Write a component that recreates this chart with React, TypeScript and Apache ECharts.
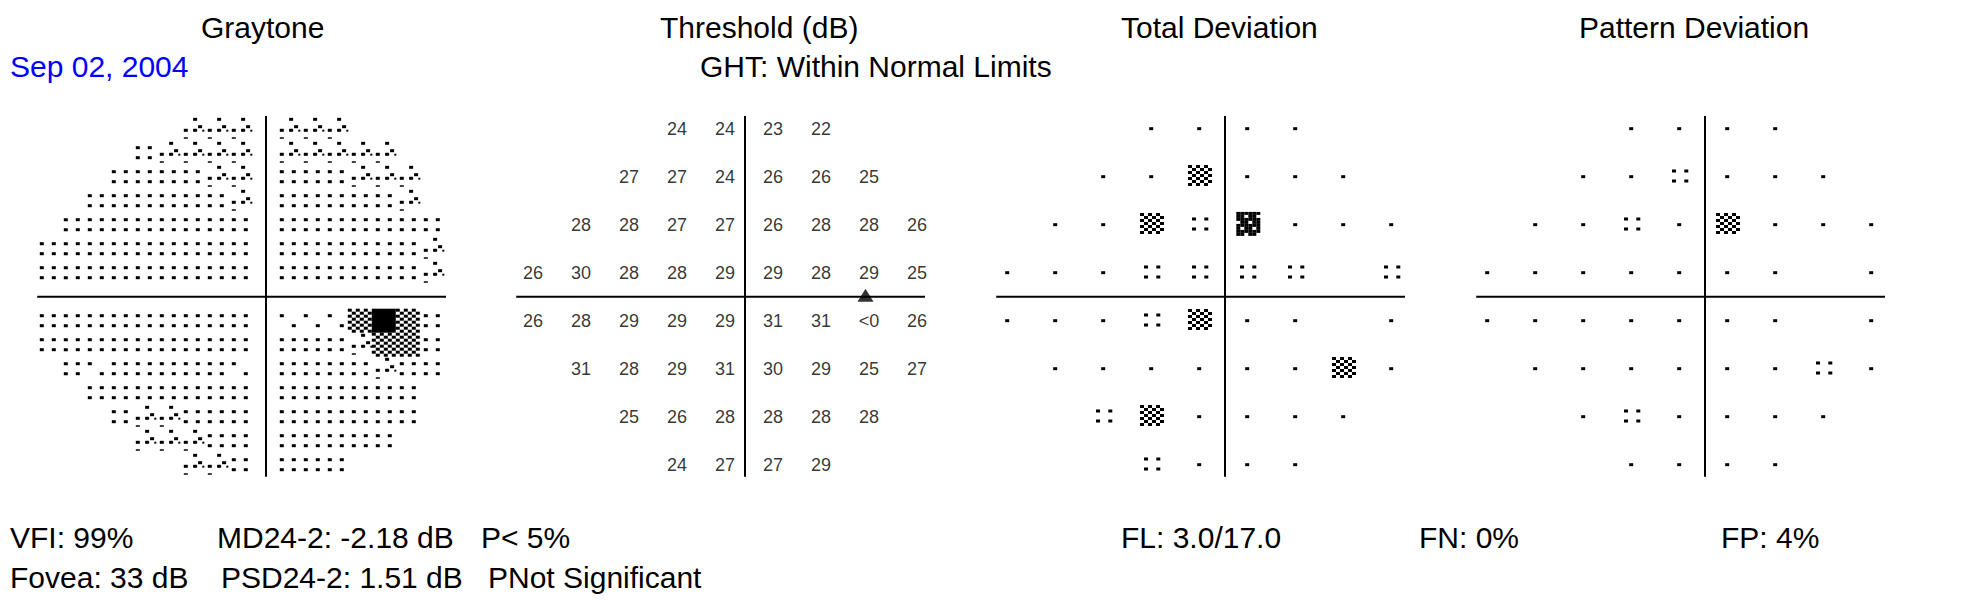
import React, { useEffect, useRef } from "react";
import * as echarts from "echarts";

// ---------- DATA ----------
// test-point grid (degrees), rows top to bottom
const rowYs = [21, 15, 9, 3, -3, -9, -15, -21];
const rowXs = [
  [-9, -3, 3, 9],
  [-15, -9, -3, 3, 9, 15],
  [-21, -15, -9, -3, 3, 9, 15, 21],
  [-27, -21, -15, -9, -3, 3, 9, 15, 21],
  [-27, -21, -15, -9, -3, 3, 9, 15, 21],
  [-21, -15, -9, -3, 3, 9, 15, 21],
  [-15, -9, -3, 3, 9, 15],
  [-9, -3, 3, 9],
];
// Threshold (dB)
const thresholdValues = [
  ["24", "24", "23", "22"],
  ["27", "27", "24", "26", "26", "25"],
  ["28", "28", "27", "27", "26", "28", "28", "26"],
  ["26", "30", "28", "28", "29", "29", "28", "29", "25"],
  ["26", "28", "29", "29", "29", "31", "31", "<0", "26"],
  ["31", "28", "29", "31", "30", "29", "25", "27"],
  ["25", "26", "28", "28", "28", "28"],
  ["24", "27", "27", "29"],
];
const blindSpot = [15, 0];
// probability symbols: 0 normal, 1 P<5%, 2 P<1%, 3 P<0.5%, -1 none
const totalDeviation = [
  [0, 0, 0, 0],
  [0, 0, 2, 0, 0, 0],
  [0, 0, 2, 1, 3, 0, 0, 0],
  [0, 0, 0, 1, 1, 1, 1, -1, 1],
  [0, 0, 0, 1, 2, 0, 0, -1, 0],
  [0, 0, 0, 0, 0, 0, 2, 0],
  [1, 2, 0, 0, 0, 0],
  [1, 0, 0, 0],
];
const patternDeviation = [
  [0, 0, 0, 0],
  [0, 0, 1, 0, 0, 0],
  [0, 0, 1, 0, 2, 0, 0, 0],
  [0, 0, 0, 0, 0, 0, 0, -1, 0],
  [0, 0, 0, 0, 0, 0, 0, -1, 0],
  [0, 0, 0, 0, 0, 0, 1, 0],
  [0, 1, 0, 0, 0, 0],
  [0, 0, 0, 0],
];
// Graytone cells (3 deg), level: 0 >=31dB, 1 26-30, 2 21-25, 3 dark, 4 <0
const grayYs = [21, 18, 15, 12, 9, 6, 3, -3, -6, -9, -12, -15, -18, -21];
// left half, from outermost cell to x=-3
const grayLeft = [
  [2, 2, 2],
  [1, 2, 2, 2, 2],
  [1, 1, 1, 1, 2, 2],
  [1, 1, 1, 1, 1, 1, 2],
  [1, 1, 1, 1, 1, 1, 1, 1],
  [1, 1, 1, 1, 1, 1, 1, 1, 1],
  [1, 1, 1, 1, 1, 1, 1, 1, 1],
  [1, 1, 1, 1, 1, 1, 1, 1, 1],
  [1, 1, 1, 1, 1, 1, 1, 1, 1],
  [1, 0, 1, 1, 1, 1, 1, 0],
  [1, 1, 1, 1, 1, 1, 1],
  [1, 2, 2, 1, 1, 1],
  [2, 2, 2, 1, 1],
  [2, 2, 1],
];
// right half, from x=3 outward
const grayRight = [
  [2, 2, 2],
  [2, 2, 2, 2, 2],
  [1, 1, 1, 2, 2, 2],
  [1, 1, 1, 1, 1, 2],
  [1, 1, 1, 1, 1, 1, 1],
  [1, 1, 1, 1, 1, 1, 2],
  [1, 1, 1, 1, 1, 1, 2],
  [0, 0, 0, 3, 4, 3, 1],
  [1, 1, 1, 2, 3, 3, 1],
  [1, 1, 1, 1, 2, 1, 1],
  [1, 1, 1, 1, 1, 1],
  [1, 1, 1, 1, 1, 1],
  [1, 1, 1, 1, 1],
  [1, 1, 1],
];
const panelTitles = ["Graytone", "Threshold (dB)", "Total Deviation", "Pattern Deviation"];
const headerLeft = "Sep 02, 2004";
const headerMid = "GHT: Within Normal Limits";
const footerRow1 = ["VFI: 99%", "MD24-2: -2.18 dB", "P< 5%", "FL: 3.0/17.0", "FN: 0%", "FP: 4%"];
const footerRow2 = ["Fovea: 33 dB", "PSD24-2: 1.51 dB", "PNot Significant"];

// ---------- LAYOUT ----------
const FONT = 'Arial, "Liberation Sans", Helvetica, sans-serif';
const TEXT_SIZE = 30;
const centersX = [266, 745, 1225, 1705];
const centerY = 296.7;
const titleX = [201, 660, 1121, 1579];
const footer1X = [10, 217, 481, 1121, 1419, 1721];
const footer2X = [10, 221, 488];

type R = [number, number, number, number];
const dotsAt = (pts: [number, number][], w = 4, h = 3): R[] => pts.map(([x, y]) => [x, y, w, h]);

function checker(cxo: number, cyo: number, cols: number, rows: number, cw: number, ch: number, dense: boolean): R[] {
  const out: R[] = [];
  const x0 = cxo - (cols * cw) / 2;
  const y0 = cyo - (rows * ch) / 2;
  for (let i = 0; i < cols; i++) {
    for (let j = 0; j < rows; j++) {
      const on = dense ? !((i + j) % 3 === 0 && j % 2 === 1) : (i + j) % 2 === 0;
      if (on) out.push([x0 + i * cw + cw / 2, y0 + j * ch + ch / 2, cw, ch]);
    }
  }
  return out;
}

function grayPattern(l: number): R[] {
  switch (l) {
    case 0:
      return dotsAt([[-8.2, -5], [3.8, 5]]);
    case 1:
      return dotsAt([[-8.2, -5], [3.8, -5], [-8.2, 5], [3.8, 5]]);
    case 2:
      return [
        [1.1, -9.4, 4, 3],
        [6.1, -2, 4, 3],
        [-8.2, 1.6, 4, 3],
        [1.1, 1.6, 4, 3],
        [9.3, 2, 2, 2],
        [-8.2, 9.3, 4, 1.5],
      ];
    case 3:
      return checker(-2.2, 0, 6, 8, 4, 3, false);
    default:
      return [[-2.2, 0, 24, 24]];
  }
}

function probPattern(l: number): R[] {
  switch (l) {
    case 0:
      return dotsAt([[-1.8, 0]]);
    case 1:
      return dotsAt([[-7, -5.7], [5.3, -5.7], [-7, 4.3], [5.3, 4.3]]);
    case 2:
      return checker(-1, -1.2, 6, 7, 4, 3, false);
    default:
      return checker(-0.7, -0.8, 6, 8, 4, 3, true);
  }
}

function makeRender(fn: (l: number) => R[]) {
  return (params: any, api: any) => {
    const p = api.coord([api.value(0), api.value(1)]);
    const rects = fn(api.value(2)).map(([dx, dy, w, h]) => ({
      type: "rect",
      shape: { x: p[0] + dx - w / 2, y: p[1] + dy - h / 2, width: w, height: h },
      style: { fill: "#000" },
    }));
    return { type: "group", children: rects };
  };
}

function buildOption() {
  const grayData: number[][] = [];
  grayYs.forEach((y, r) => {
    const L = grayLeft[r];
    L.forEach((lv, i) => grayData.push([-3 * (L.length - i), y, lv]));
    grayRight[r].forEach((lv, i) => grayData.push([3 * (i + 1), y, lv]));
  });
  const thrData: any[] = [];
  const tdData: number[][] = [];
  const pdData: number[][] = [];
  rowYs.forEach((y, r) => {
    rowXs[r].forEach((x, i) => {
      thrData.push([x, y, thresholdValues[r][i]]);
      if (totalDeviation[r][i] >= 0) tdData.push([x, y, totalDeviation[r][i]]);
      if (patternDeviation[r][i] >= 0) pdData.push([x, y, patternDeviation[r][i]]);
    });
  });

  const grid = centersX.map((cx) => ({ left: cx - 240, top: centerY - 200, width: 480, height: 400 }));
  const xAxis = centersX.map((_, i) => ({ type: "value", gridIndex: i, min: -30, max: 30, show: false }));
  const yAxis = centersX.map((_, i) => ({ type: "value", gridIndex: i, min: -25, max: 25, show: false }));

  const series: any[] = [];
  centersX.forEach((_, i) => {
    series.push({
      type: "line", xAxisIndex: i, yAxisIndex: i, silent: true, symbol: "none",
      data: [[-28.6, 0], [22.5, 0]], lineStyle: { color: "#000", width: 2 },
    });
    series.push({
      type: "line", xAxisIndex: i, yAxisIndex: i, silent: true, symbol: "none",
      data: [[0, 22.6], [0, -22.5]], lineStyle: { color: "#000", width: 2 },
    });
  });
  series.push({
    type: "custom", xAxisIndex: 0, yAxisIndex: 0, silent: true,
    renderItem: makeRender(grayPattern), data: grayData,
  });
  series.push({
    type: "scatter", xAxisIndex: 1, yAxisIndex: 1, silent: true,
    symbolSize: 1, itemStyle: { color: "rgba(0,0,0,0)" },
    data: thrData,
    label: {
      show: true, position: "inside", offset: [4, 0],
      formatter: (p: any) => p.value[2],
      color: "#000", fontSize: 18, fontFamily: FONT,
    },
  });
  series.push({
    type: "scatter", xAxisIndex: 1, yAxisIndex: 1, silent: true,
    symbol: "triangle", symbolSize: [16, 13], symbolOffset: [0.5, -1.4],
    itemStyle: { color: "#000" }, data: [blindSpot],
  });
  series.push({
    type: "custom", xAxisIndex: 2, yAxisIndex: 2, silent: true,
    renderItem: makeRender(probPattern), data: tdData,
  });
  series.push({
    type: "custom", xAxisIndex: 3, yAxisIndex: 3, silent: true,
    renderItem: makeRender(probPattern), data: pdData,
  });

  const txt = (text: string, x: number, y: number, fill = "#000", size = TEXT_SIZE) => ({
    type: "text", x, y, silent: true,
    style: {
      text, fill, fontSize: size, fontFamily: FONT,
      align: "left", verticalAlign: "middle", textAlign: "left", textVerticalAlign: "middle",
    },
  });
  const graphic: any[] = [];
  panelTitles.forEach((t, i) => graphic.push(txt(t, titleX[i], 27.6)));
  graphic.push(txt(headerLeft, 10, 66.5, "#0000FF"));
  graphic.push(txt(headerMid, 700, 66.5));
  footerRow1.forEach((t, i) => graphic.push(txt(t, footer1X[i], 537)));
  footerRow2.forEach((t, i) => graphic.push(txt(t, footer2X[i], 577)));

  return {
    animation: false,
    backgroundColor: "#fff",
    grid, xAxis, yAxis, series, graphic,
  };
}

export default function App() {
  const ref = useRef<HTMLDivElement>(null);
  useEffect(() => {
    document.body.style.margin = "0";
    const chart = echarts.init(ref.current!, null, { renderer: "svg" });
    chart.setOption(buildOption() as any);
    return () => chart.dispose();
  }, []);
  return <div ref={ref} style={{ width: 1968, height: 600, background: "#fff" }} />;
}
